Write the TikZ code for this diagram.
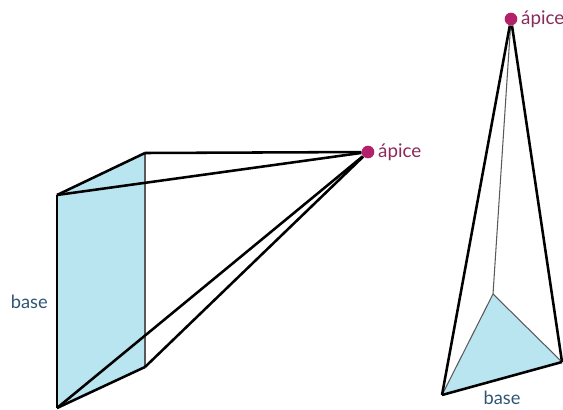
\documentclass[tikz,border=0pt]{standalone}
\usepackage{fontspec}
\setmainfont{Lato}
\usepackage{xcolor}
\usetikzlibrary{positioning,calc}
\definecolor{facecol}{HTML}{B8E5F0}
\definecolor{apexcol}{HTML}{B5206B}
\definecolor{apextext}{HTML}{8A2A5C}
\definecolor{basetext}{HTML}{2F5573}
\tikzset{
  edge/.style={draw=black, line width=1.45pt, line join=round},
  thin edge/.style={draw=black!65, line width=0.6pt},
  apex/.style={circle, fill=apexcol, inner sep=0pt, minimum size=7.2pt},
  apexlabel/.style={font=\fontsize{10.7}{12}\selectfont, text=apextext, inner sep=0pt},
  baselabel/.style={font=\fontsize{10.4}{12}\selectfont, text=basetext, inner sep=0pt}
}

\begin{document}
\begin{tikzpicture}[x=0.02cm, y=-0.02cm]
  \useasboundingbox (0,0) rectangle (563,409);
  % left pyramid
  \coordinate (a) at (57,195);
  \coordinate (b) at (145,153);
  \coordinate (c) at (145,367);
  \coordinate (d) at (57,408);
  \node[apex] (p) at (368,152) {};
  \node[apexlabel, right=1.8pt of p] (pl) {ápice};
  \node[baselabel, anchor=east] (bl) at ($(a)!0.5!(d)+(-9,0)$) {base};
  \fill[facecol] (a)--(b)--(c)--(d)--cycle;
  \draw[thin edge] (b)--(c);
  \draw[edge] (a)--(d);
  \draw[edge] (a)--(b);
  \draw[edge] (d)--(c);
  \draw[edge] (a)--(p);
  \draw[edge] (b)--(p);
  \draw[edge] (c)--(p);
  \draw[edge] (d)--(p);
  % right pyramid
  \coordinate (e) at (442,395);
  \coordinate (f) at (562,362);
  \coordinate (g) at (493,294);
  \node[apex] (q) at (511,19) {};
  \node[apexlabel, right=1.8pt of q] (ql) {ápice};
  \node[baselabel] (br) at (502,398) {base};
  \fill[facecol] (e)--(f)--(g)--cycle;
  \draw[thin edge] (q)--(g);
  \draw[thin edge] (g)--(e);
  \draw[thin edge] (g)--(f);
  \draw[edge] (e)--(f);
  \draw[edge] (q)--(e);
  \draw[edge] (q)--(f);
\end{tikzpicture}
\end{document}
